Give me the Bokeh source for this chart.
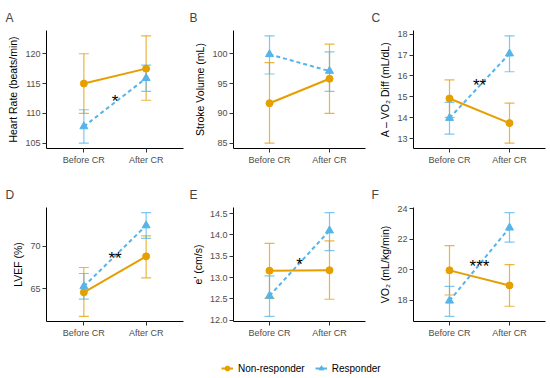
from bokeh.plotting import figure
from bokeh.models import Range1d, FixedTicker, Whisker, TeeHead, ColumnDataSource, Legend, LegendItem
from bokeh.layouts import column, row
from bokeh.embed import file_html
from bokeh.resources import INLINE
from bokeh.core.properties import value

FONT = "Liberation Sans"
ORANGE = "#E69F00"
BLUE = "#56B4E9"

times = ["Before CR", "After CR"]
groups = ["Non-responder", "Responder"]

# A: Heart rate
hr_non = [115.0, 117.5]
hr_non_lo = [110.0, 112.2]
hr_non_hi = [120.0, 123.0]
hr_res = [107.8, 115.9]
hr_res_lo = [105.0, 113.7]
hr_res_hi = [110.6, 118.1]
hr_ticks = [105, 110, 115, 120]
hr_sig, hr_sig_y = "*", 112.6

# B: Stroke volume
sv_non = [91.7, 95.8]
sv_non_lo = [85.0, 90.0]
sv_non_hi = [98.5, 101.6]
sv_res = [99.9, 97.1]
sv_res_lo = [96.6, 93.7]
sv_res_hi = [103.0, 100.3]
sv_ticks = [85, 90, 95, 100]
sv_sig, sv_sig_y = "", 0

# C: A-VO2 diff
av_non = [14.92, 13.74]
av_non_lo = [14.01, 12.78]
av_non_hi = [15.81, 14.70]
av_res = [13.98, 17.07]
av_res_lo = [13.21, 16.20]
av_res_hi = [14.73, 17.92]
av_ticks = [13, 14, 15, 16, 17, 18]
av_sig, av_sig_y = "**", 15.72

# D: LVEF
ef_non = [64.6, 68.8]
ef_non_lo = [61.8, 66.3]
ef_non_hi = [67.5, 71.2]
ef_res = [65.3, 72.4]
ef_res_lo = [63.8, 70.9]
ef_res_hi = [66.8, 73.9]
ef_ticks = [65, 70]
ef_sig, ef_sig_y = "**", 69.0

# E: e'
ep_non = [13.16, 13.17]
ep_non_lo = [12.51, 12.49]
ep_non_hi = [13.80, 13.86]
ep_res = [12.57, 14.10]
ep_res_lo = [12.09, 13.63]
ep_res_hi = [13.04, 14.52]
ep_ticks = [12.0, 12.5, 13.0, 13.5, 14.0, 14.5]
ep_sig, ep_sig_y = "*", 13.40

# F: VO2
vo_non = [19.96, 18.97]
vo_non_lo = [18.34, 17.60]
vo_non_hi = [21.58, 20.34]
vo_res = [17.96, 22.76]
vo_res_lo = [16.94, 21.81]
vo_res_hi = [18.91, 23.75]
vo_ticks = [18, 20, 22, 24]
vo_sig, vo_sig_y = "***", 20.49


def panel(tag, ylabel, non, non_lo, non_hi, res, res_lo, res_hi, ticks, sig, sig_y,
          width, height, bl, br, bt, bb, title_gap, tick_fmt=None):
    lo = min(non_lo + res_lo)
    hi = max(non_hi + res_hi)
    pad = (hi - lo) * 0.05
    p = figure(width=width, height=height, x_range=Range1d(0.4, 2.6),
               y_range=Range1d(lo - pad, hi + pad), output_backend="svg",
               toolbar_location=None, min_border_left=bl, min_border_right=br,
               min_border_top=bt, min_border_bottom=bb)
    xs = [i + 1 for i in range(len(times))]
    series = [
        (non, non_lo, non_hi, ORANGE, "solid", "circle", 7),
        (res, res_lo, res_hi, BLUE, "4 3", "triangle", 8),
    ]
    for vals, los, his, color, dash, marker, msize in series:
        src = ColumnDataSource(dict(x=xs, y=vals, lo=los, hi=his))
        w = Whisker(base="x", upper="hi", lower="lo", source=src, dimension="height",
                    line_color=color, line_alpha=0.75, line_width=1.2,
                    upper_head=TeeHead(size=10, line_color=color, line_alpha=0.75, line_width=1.2),
                    lower_head=TeeHead(size=10, line_color=color, line_alpha=0.75, line_width=1.2))
        p.add_layout(w)
        p.line("x", "y", source=src, line_color=color, line_width=2, line_dash=dash)
        p.scatter("x", "y", source=src, marker=marker, size=msize, color=color)
    if sig:
        p.text(x=[sum(xs) / len(xs)], y=[sig_y], text=[sig], text_font=value(FONT),
               text_font_size="17px", text_align="center", text_baseline="middle",
               text_color="black", y_offset=4)
    p.title.text = tag
    p.title.text_font = FONT
    p.title.text_font_size = "12px"
    p.title.text_font_style = "normal"
    p.title.offset = -bl + 5
    p.title.standoff = title_gap
    p.xaxis.ticker = FixedTicker(ticks=xs)
    p.xaxis.major_label_overrides = {x: t for x, t in zip(xs, times)}
    p.yaxis.ticker = FixedTicker(ticks=ticks)
    if tick_fmt:
        p.yaxis.major_label_overrides = {t: tick_fmt.format(t) for t in ticks}
    p.yaxis.axis_label = ylabel
    p.grid.visible = False
    p.outline_line_color = None
    for ax in p.axis:
        ax.axis_line_color = "black"
        ax.axis_line_width = 1
        ax.major_tick_line_color = "#333333"
        ax.major_tick_in = 0
        ax.major_tick_out = 4
        ax.minor_tick_line_color = None
        ax.major_label_text_font = FONT
        ax.major_label_text_font_size = "9px"
        ax.major_label_text_color = "#4D4D4D"
        ax.major_label_standoff = 2
        ax.axis_label_text_font = FONT
        ax.axis_label_text_font_size = "10.5px"
        ax.axis_label_text_font_style = "normal"
        ax.axis_label_text_color = "black"
        ax.axis_label_standoff = 3
    return p


# (width, min_border_left, min_border_right)
W = [(184, 46, 1), (182, 49, 1), (184, 47, 5)]
# (height, min_border_top, min_border_bottom, title gap)
H1 = (176, 30, 28, 11)
H2 = (164, 31, 17, 12)

pA = panel("A", "Heart Rate (beats/min)", hr_non, hr_non_lo, hr_non_hi, hr_res, hr_res_lo, hr_res_hi,
           hr_ticks, hr_sig, hr_sig_y, W[0][0], H1[0], W[0][1], W[0][2], H1[1], H1[2], H1[3])
pB = panel("B", "Stroke Volume (mL)", sv_non, sv_non_lo, sv_non_hi, sv_res, sv_res_lo, sv_res_hi,
           sv_ticks, sv_sig, sv_sig_y, W[1][0], H1[0], W[1][1], W[1][2], H1[1], H1[2], H1[3])
pC = panel("C", "A \u2013 VO\u2082 Diff (mL/dL)", av_non, av_non_lo, av_non_hi, av_res, av_res_lo, av_res_hi,
           av_ticks, av_sig, av_sig_y, W[2][0], H1[0], W[2][1], W[2][2], H1[1], H1[2], H1[3])
pD = panel("D", "LVEF (%)", ef_non, ef_non_lo, ef_non_hi, ef_res, ef_res_lo, ef_res_hi,
           ef_ticks, ef_sig, ef_sig_y, W[0][0], H2[0], W[0][1], W[0][2], H2[1], H2[2], H2[3])
pE = panel("E", "e' (cm/s)", ep_non, ep_non_lo, ep_non_hi, ep_res, ep_res_lo, ep_res_hi,
           ep_ticks, ep_sig, ep_sig_y, W[1][0], H2[0], W[1][1], W[1][2], H2[1], H2[2], H2[3],
           tick_fmt="{:.1f}")
pF = panel("F", "VO\u2082 (mL/kg/min)", vo_non, vo_non_lo, vo_non_hi, vo_res, vo_res_lo, vo_res_hi,
           vo_ticks, vo_sig, vo_sig_y, W[2][0], H2[0], W[2][1], W[2][2], H2[1], H2[2], H2[3])

# Legend strip
pL = figure(width=550, height=38, output_backend="svg", toolbar_location=None,
            x_axis_location=None, y_axis_location=None, min_border=0,
            x_range=Range1d(0, 1), y_range=Range1d(0, 1))
pL.grid.visible = False
pL.outline_line_color = None
items = []
for g, color, marker, msize in [(groups[0], ORANGE, "circle", 6),
                                (groups[1], BLUE, "triangle", 7)]:
    l = pL.line(x=[-5, -4], y=[-5, -4], line_color=color, line_width=2)
    s = pL.scatter(x=[-5], y=[-5], marker=marker, size=msize, color=color)
    items.append(LegendItem(label=g, renderers=[l, s]))
leg = Legend(items=items, orientation="horizontal", location=(221, 0),
             border_line_color=None, background_fill_alpha=0,
             label_text_font=FONT, label_text_font_size="10px", label_text_color="black",
             glyph_width=12, glyph_height=20, label_standoff=5, spacing=10,
             padding=0, margin=0)
pL.add_layout(leg, "center")

layout = column(row(pA, pB, pC), row(pD, pE, pF), pL, spacing=0)
open("out.html", "w").write(file_html(layout, INLINE))
